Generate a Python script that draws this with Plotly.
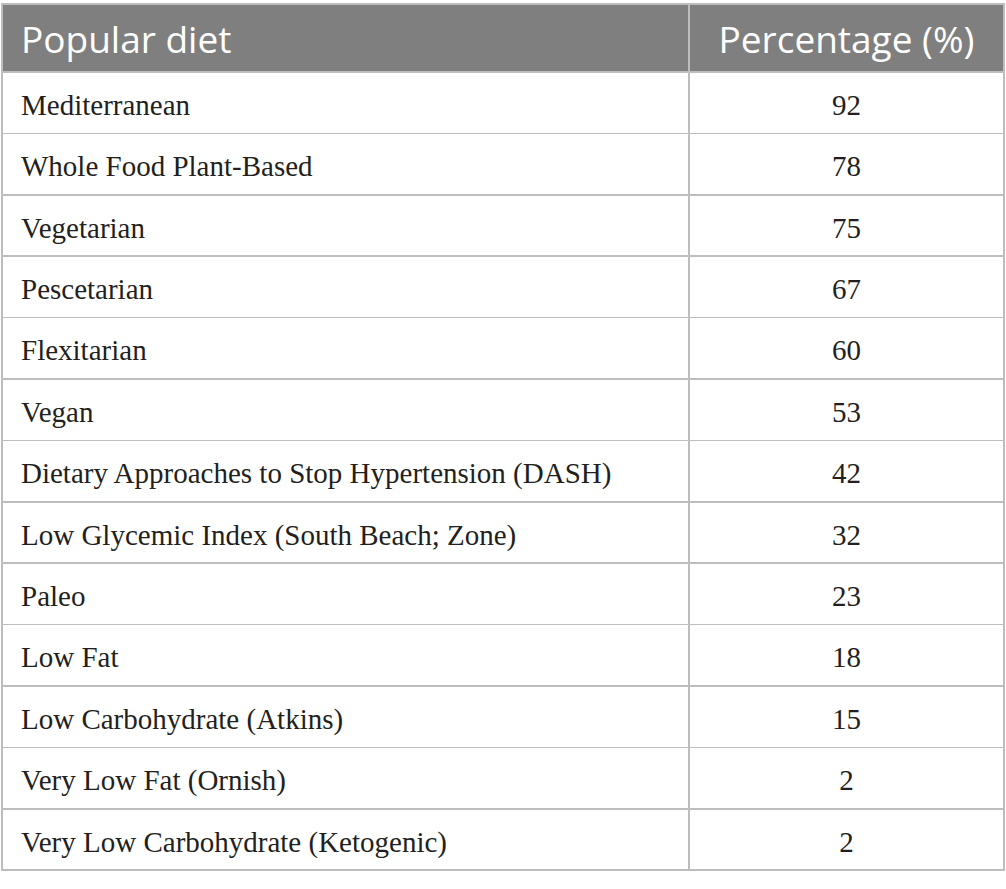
import plotly.graph_objects as go

diets = ["Mediterranean", "Whole Food Plant-Based", "Vegetarian", "Pescetarian",
         "Flexitarian", "Vegan", "Dietary Approaches to Stop Hypertension (DASH)",
         "Low Glycemic Index (South Beach; Zone)", "Paleo", "Low Fat",
         "Low Carbohydrate (Atkins)", "Very Low Fat (Ornish)",
         "Very Low Carbohydrate (Ketogenic)"]
percentages = [92, 78, 75, 67, 60, 53, 42, 32, 23, 18, 15, 2, 2]
headers = ["Popular diet", "Percentage (%)"]

W, H = 1006, 889
ML, MR, MT, MB = 2, 2, 4, 0
plot_w = W - ML - MR
plot_h = H - MT - MB
dx, dy = 11, 13   # extra text padding (left / top) that plotly tables lack

line_col = "#bdbdbd"
clear = "rgba(0,0,0,0)"
blank = [""] * len(diets)

# grid + fills only
grid = go.Table(
    domain=dict(x=[0, 1], y=[0, 1]),
    columnwidth=[687, 315],
    header=dict(values=["", ""], fill_color="#7f7f7f", line_color=line_col,
                line_width=1.5, height=68),
    cells=dict(values=[blank, blank], fill_color="white", line_color=line_col,
               line_width=1.5, height=61.4),
)

# visible text, nudged right/down so it sits like the original
text = go.Table(
    domain=dict(x=[dx / plot_w, 1], y=[0, 1 - dy / plot_h]),
    columnwidth=[687 - dx, 315],
    header=dict(values=headers, fill_color=clear, line_color=clear,
                align=["left", "center"], height=68,
                font=dict(family="Open Sans", size=37, color="white")),
    cells=dict(values=[diets, percentages], fill_color=clear, line_color=clear,
               align=["left", "center"], height=61.4,
               font=dict(family="Liberation Serif", size=29, color="#231f20")),
)

fig = go.Figure([grid, text])
fig.update_layout(width=W, height=H, margin=dict(l=ML, r=MR, t=MT, b=MB),
                  paper_bgcolor="white")

fig.write_html("out.html", config={"displayModeBar": False},
               post_script="document.body.style.margin='0';")
